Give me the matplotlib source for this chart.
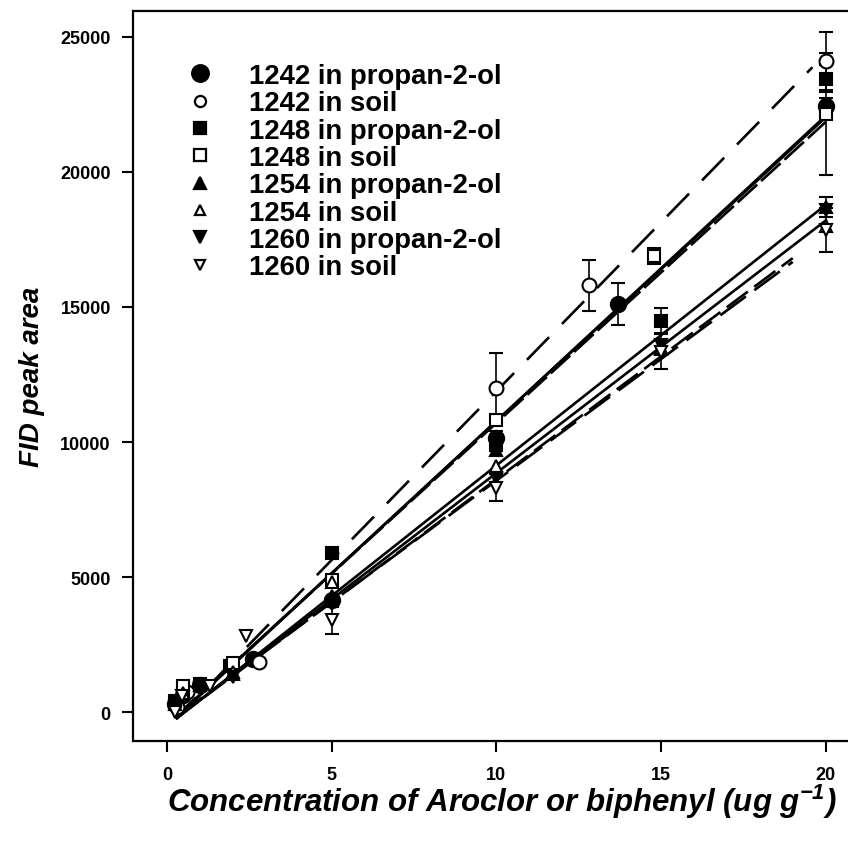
import numpy as np
import matplotlib
matplotlib.use('Agg')
import matplotlib.pyplot as plt
from matplotlib.lines import Line2D

plt.rcParams['font.family'] = ['Liberation Sans', 'DejaVu Sans']
plt.rcParams['font.weight'] = 'bold'
plt.rcParams['mathtext.fontset'] = 'custom'
plt.rcParams['mathtext.rm'] = 'Liberation Sans:bold:italic'
plt.rcParams['mathtext.it'] = 'Liberation Sans:bold:italic'
plt.rcParams['mathtext.bf'] = 'Liberation Sans:bold:italic'

# series labels
labels = ['1242 in propan-2-ol', '1242 in soil',
          '1248 in propan-2-ol', '1248 in soil',
          '1254 in propan-2-ol', '1254 in soil',
          '1260 in propan-2-ol', '1260 in soil']

x_1242_p = [0.25, 0.5, 1.0, 2.6, 5.0, 10.0, 13.7, 20.0]
y_1242_p = [300, 650, 1000, 1950, 4150, 10150, 15100, 22450]
e_1242_p = [0, 0, 0, 0, 0, 250, 780, 300]

x_1242_s = [0.3, 0.6, 2.8, 10.0, 12.8, 20.0]
y_1242_s = [200, 750, 1850, 12000, 15800, 24100]
e_1242_s = [0, 0, 0, 1300, 950, 1080]

x_1248_p = [0.25, 0.5, 1.0, 1.9, 5.0, 10.0, 15.0, 20.0]
y_1248_p = [420, 700, 1050, 1700, 5900, 9900, 14500, 23450]
e_1248_p = [0, 0, 0, 0, 0, 250, 450, 500]

x_1248_s = [0.5, 2.0, 5.0, 10.0, 14.8, 20.0]
y_1248_s = [950, 1800, 4900, 10800, 16900, 22150]
e_1248_s = [0, 0, 0, 0, 300, 2250]

x_1254_p = [0.25, 1.0, 2.0, 5.0, 10.0, 15.0, 20.0]
y_1254_p = [300, 1000, 1400, 4300, 9700, 13450, 18700]
e_1254_p = [0, 0, 0, 0, 0, 0, 380]

x_1254_s = [0.5, 2.0, 5.0, 10.0, 15.0, 20.0]
y_1254_s = [700, 1500, 4800, 9100, 13500, 18000]
e_1254_s = [0, 0, 0, 0, 0, 0]

x_1260_p = [0.25, 1.0, 2.0, 5.0, 10.0, 15.0, 20.0]
y_1260_p = [200, 900, 1300, 4000, 8650, 13600, 18600]
e_1260_p = [0, 0, 0, 0, 0, 0, 0]

x_1260_s = [0.25, 0.45, 1.3, 2.4, 5.0, 10.0, 15.0, 20.0]
y_1260_s = [0, 600, 950, 2800, 3400, 8300, 13350, 17850]
e_1260_s = [0, 0, 0, 0, 500, 500, 650, 800]

# regression lines: slope, intercept, x range
fit_slope = [1125, 1250, 1130, 1115, 965, 910, 935, 900]
fit_icpt = [-480, -620, -520, -450, -520, -480, -500, -430]
fit_x0 = [0.3, 0.3, 0.3, 0.3, 0.3, 0.3, 0.3, 0.3]
fit_x1 = [20.0, 19.6, 20.0, 20.0, 20.0, 19.0, 20.0, 19.0]

xs = [x_1242_p, x_1242_s, x_1248_p, x_1248_s, x_1254_p, x_1254_s, x_1260_p, x_1260_s]
ys = [y_1242_p, y_1242_s, y_1248_p, y_1248_s, y_1254_p, y_1254_s, y_1260_p, y_1260_s]
es = [e_1242_p, e_1242_s, e_1248_p, e_1248_s, e_1254_p, e_1254_s, e_1260_p, e_1260_s]

markers = ['o', 'o', 's', 's', '^', '^', 'v', 'v']
filled = [True, False, True, False, True, False, True, False]
msizes = [11, 10, 9, 9, 9, 9, 9, 9]
styles = ['-', (0, (12, 7)), '-', (0, (10, 2)), '-', (0, (10, 3)), '-', (0, (12, 4))]

fig = plt.figure(figsize=(8.48, 8.45), dpi=100)
ax = fig.add_axes([133 / 848, 103 / 845, 719 / 848, 730 / 845])

for i in range(len(labels)):
    lx = np.array([fit_x0[i], fit_x1[i]])
    ax.plot(lx, fit_slope[i] * lx + fit_icpt[i], color='black', lw=1.9,
            linestyle=styles[i], zorder=2)

for i in range(len(labels)):
    yerr = np.array(es[i], dtype=float)
    ax.errorbar(xs[i], ys[i], yerr=np.where(yerr > 0, yerr, np.nan), fmt='none',
                ecolor='black', elinewidth=1.2, capsize=5, capthick=1.5, zorder=3)
    ax.plot(xs[i], ys[i], linestyle='none', marker=markers[i], ms=msizes[i],
            mfc='black' if filled[i] else 'white', mec='black', mew=1.5, zorder=4)

handles = []
leg_ms = [12, 8, 9, 8, 8.5, 7.5, 8.5, 7.5]
for i in range(len(labels)):
    handles.append(Line2D([], [], linestyle='none', marker=markers[i], ms=leg_ms[i],
                          mfc='black' if filled[i] else 'white', mec='black', mew=1.6))
ax.legend(handles, labels, loc='upper left', bbox_to_anchor=(0.074, 0.929),
          frameon=False, fontsize=19.8, handlelength=1.0, handletextpad=1.3,
          labelspacing=0.05, borderpad=0, borderaxespad=0)

ax.set_xlim(-1.03, 20.8)
ax.set_ylim(-1070, 25960)
ax.set_xticks([0, 5, 10, 15, 20])
ax.set_yticks([0, 5000, 10000, 15000, 20000, 25000])
ax.tick_params(direction='out', length=8, width=1.5, labelsize=13, pad=8)
ax.tick_params(axis='x', pad=10)
for lab in ax.get_xticklabels() + ax.get_yticklabels():
    lab.set_fontweight('bold')
for sp in ax.spines.values():
    sp.set_linewidth(1.6)

ax.set_xlabel('Concentration of Aroclor or biphenyl (ug g$^{-1}$)',
              fontsize=22.5, fontweight='bold', style='italic')
ax.xaxis.set_label_coords(0.5125, -0.056)
ax.set_ylabel('FID peak area', fontsize=20, fontweight='bold', style='italic',
              labelpad=11)

fig.savefig('out.png', dpi=100)
